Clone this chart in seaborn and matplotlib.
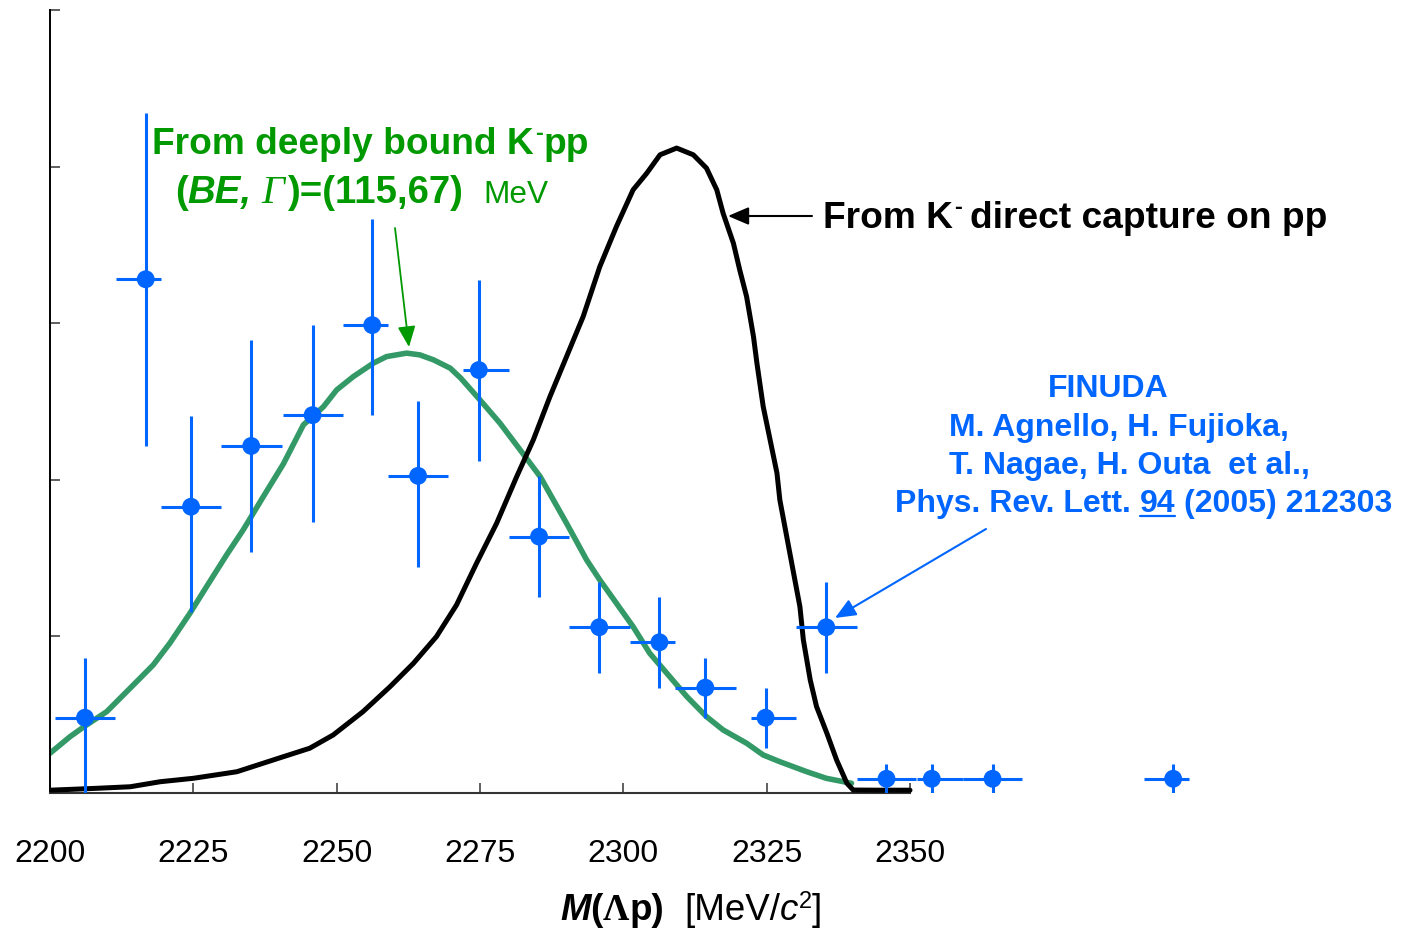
import numpy as np
import matplotlib
matplotlib.use("Agg")
import matplotlib.pyplot as plt
from matplotlib.lines import Line2D
import seaborn as sns

# --- FINUDA Lambda-p invariant-mass spectrum -------------------------------
mass = [2206.1, 2216.7, 2224.6, 2235.1, 2245.8, 2256.2, 2264.2, 2274.8, 2285.3,
        2295.8, 2306.3, 2314.3, 2324.8, 2335.4, 2345.9, 2353.8, 2364.4, 2395.9]
counts = [4.79, 32.8, 18.27, 22.15, 24.12, 29.87, 20.24, 27.0, 16.36,
          10.57, 9.61, 6.71, 4.79, 10.57, 0.89, 0.89, 0.89, 0.89]
err_lo = [4.79, 10.63, 6.75, 6.75, 6.8, 5.73, 5.8, 5.81, 3.83,
          2.9, 2.9, 1.92, 1.96, 2.9, 0.93, 0.93, 0.93, 0.93]
err_hi = [3.81, 10.6, 5.8, 6.77, 5.73, 6.77, 4.81, 5.75, 3.88,
          2.91, 2.88, 1.88, 1.88, 2.88, 0.94, 0.94, 0.94, 0.94]
bin_lo = [5.2, 5.2, 5.3, 5.2, 5.2, 5.1, 5.2, 2.7, 5.2,
          5.2, 5.2, 5.3, 2.6, 5.2, 5.2, 2.6, 5.2, 5.1]
bin_hi = [5.3, 2.7, 5.3, 5.3, 5.3, 2.7, 5.3, 5.2, 5.2,
          5.3, 2.7, 5.3, 5.3, 5.3, 5.2, 5.4, 5.2, 2.8]

# deeply bound K-pp spectrum (BE, Gamma) = (115, 67) MeV
bound_m = [2200.0, 2203.5, 2206.1, 2209.9, 2215.1, 2218.0, 2220.9, 2224.4, 2227.3,
           2230.8, 2233.7, 2237.2, 2240.7, 2244.2, 2247.7, 2250.0, 2252.9, 2256.4,
           2258.7, 2262.2, 2264.5, 2266.9, 2269.8, 2271.6, 2275.0, 2278.5, 2282.0,
           2285.5, 2290.1, 2293.6, 2295.9, 2298.8, 2301.7, 2304.6, 2308.1, 2311.1,
           2314.5, 2317.4, 2321.5, 2324.4, 2327.3, 2332.0, 2335.4, 2339.8]
bound_y = [2.52, 3.58, 4.26, 5.18, 7.09, 8.16, 9.55, 11.46, 13.16,
           15.19, 16.79, 18.91, 21.0, 23.5, 24.66, 25.73, 26.58, 27.44,
           27.86, 28.08, 27.97, 27.65, 27.12, 26.5, 25.09, 23.6, 21.9,
           20.19, 17.21, 14.87, 13.59, 12.1, 10.61, 8.91, 7.41, 6.13,
           4.86, 4.01, 3.16, 2.41, 1.98, 1.34, 0.92, 0.6]

# K- direct capture on pp
direct_m = [2200.0, 2208.1, 2214.0, 2219.2, 2225.0, 2232.6, 2240.7, 2245.3, 2249.4,
            2254.6, 2259.3, 2263.4, 2267.4, 2270.9, 2274.4, 2277.9, 2281.4, 2284.3,
            2287.2, 2290.1, 2293.0, 2295.9, 2298.8, 2301.7, 2304.1, 2306.4, 2309.3,
            2312.2, 2314.5, 2316.3, 2317.4, 2319.2, 2320.3, 2321.5, 2322.7, 2323.3,
            2324.4, 2325.6, 2326.8, 2327.3, 2328.5, 2329.7, 2330.8, 2331.4, 2332.6,
            2333.7, 2335.5, 2337.2, 2339.0, 2340.1, 2344.8, 2350.0]
direct_y = [0.16, 0.28, 0.38, 0.70, 0.92, 1.34, 2.30, 2.84, 3.69,
            5.18, 6.77, 8.27, 9.97, 11.99, 14.66, 17.21, 20.19, 22.54,
            25.3, 27.86, 30.42, 33.61, 36.17, 38.51, 39.58, 40.75, 41.18,
            40.75, 39.9, 38.51, 37.02, 35.1, 33.4, 31.69, 29.14, 27.44,
            24.66, 22.54, 20.41, 18.7, 16.36, 14.02, 11.88, 9.76, 7.2,
            5.5, 3.8, 2.09, 0.6, 0.17, 0.16, 0.16]

x_ticks = [2200, 2225, 2250, 2275, 2300, 2325, 2350]
tick_labels = ["2200", "2225", "2250", "2275", "2300", "2325", "2350"]

BLUE = "#0066FF"
CURVE_GREEN = "#339966"
TEXT_GREEN = "#009900"
SANS = ["Liberation Sans", "DejaVu Sans"]
SERIF = ["Liberation Serif", "DejaVu Serif"]

sns.set_theme(style="ticks")
plt.rcParams["font.family"] = SANS

W, H = 1407, 930
fig = plt.figure(figsize=(W / 100, H / 100), dpi=100)
ax = fig.add_axes([50 / W, (H - 792.7) / H, (W - 50) / W, 782.7 / H])
ax.set_facecolor("white")

sns.lineplot(x=bound_m, y=bound_y, ax=ax, color=CURVE_GREEN, lw=4.0,
             estimator=None, sort=False, zorder=2)
sns.lineplot(x=direct_m, y=direct_y, ax=ax, color="black", lw=3.6,
             estimator=None, sort=False, zorder=3)

ax.errorbar(mass, counts, yerr=[err_lo, err_hi], xerr=[bin_lo, bin_hi],
            fmt="none", ecolor=BLUE, elinewidth=2.2, capsize=0, zorder=4)
sns.scatterplot(x=mass, y=counts, ax=ax, color=BLUE, s=165,
                edgecolor="none", linewidth=0, zorder=5)

ax.set_xlim(2200, 2200 + (W - 50) / 5.7333)
ax.set_ylim(0, 50)
ax.set_xticks(x_ticks)
ax.set_xticklabels(tick_labels)
ax.set_yticks(np.arange(0, 51, 10))
ax.set_yticklabels([])
ax.tick_params(axis="x", direction="in", length=7.2, width=1.2, color="#444444",
               pad=33, labelsize=23, labelcolor="black")
ax.tick_params(axis="y", direction="in", length=7.2, width=1.2, color="#444444")
for side in ("top", "right"):
    ax.spines[side].set_visible(False)
ax.spines["bottom"].set_bounds(2200, 2350)
ax.spines["bottom"].set_color("#333333")
ax.spines["bottom"].set_linewidth(1.5)
ax.spines["left"].set_color("black")
ax.spines["left"].set_linewidth(1.4)
ax.set_xlabel("")
ax.set_ylabel("")

renderer = fig.canvas.get_renderer()


def rich(x, y, pieces, color):
    """Draw a run of differently styled text pieces on one baseline (pixels, top-left origin)."""
    cur = x
    placed = []
    for p in pieces:
        cur += p.get("gap", 0)
        t = fig.text(cur / W, 1 - (y - p.get("rise", 0)) / H, p["s"],
                     va="baseline", ha="left",
                     fontsize=p.get("size", 26.7),
                     fontweight=p.get("weight", "bold"),
                     fontstyle=p.get("style", "normal"),
                     family=p.get("family", SANS),
                     color=p.get("color", color))
        bb = t.get_window_extent(renderer)
        placed.append((t, bb))
        cur = bb.x1
    return placed


# model labels
rich(152, 154, [
    {"s": "From deeply bound K"},
    {"s": "-", "size": 17, "rise": 14, "gap": 1},
    {"s": "pp", "gap": 1},
], TEXT_GREEN)
rich(175, 203, [
    {"s": "(", "size": 27.6},
    {"s": "BE,", "style": "italic", "size": 27.6},
    {"s": "\u0393", "style": "italic", "weight": "normal", "family": SERIF,
     "size": 29, "gap": 10},
    {"s": ")=(115,67)", "size": 27.6, "gap": 2},
    {"s": "MeV", "weight": "normal", "size": 22.8, "gap": 21},
], TEXT_GREEN)
rich(823, 228, [
    {"s": "From K"},
    {"s": "-", "size": 17, "rise": 14, "gap": 1},
    {"s": "direct capture on pp", "gap": 8},
], "black")

# FINUDA reference
rich(1048, 397, [{"s": "FINUDA", "size": 23}], BLUE)
rich(949, 436, [{"s": "M. Agnello, H. Fujioka,", "size": 23}], BLUE)
rich(949, 474, [{"s": "T. Nagae, H. Outa  et al.,", "size": 23}], BLUE)
ref = rich(895, 512, [
    {"s": "Phys. Rev. Lett.", "size": 23},
    {"s": "94", "size": 23, "gap": 9},
    {"s": "(2005) 212303", "size": 23, "gap": 9},
], BLUE)
vol_bb = ref[1][1]
fig.add_artist(Line2D([vol_bb.x0 / W, vol_bb.x1 / W], [1 - 516 / H] * 2,
                      transform=fig.transFigure, color=BLUE, lw=1.6))

# axis title
rich(560, 920, [
    {"s": "M", "style": "italic", "size": 26.5},
    {"s": "(", "size": 26.5},
    {"s": "\u039b", "family": SERIF, "size": 26.5},
    {"s": "p)", "size": 26.5},
    {"s": "[MeV/", "weight": "normal", "size": 26.5, "gap": 20},
    {"s": "c", "weight": "normal", "style": "italic", "size": 26.5},
    {"s": "2", "weight": "normal", "size": 17, "rise": 12},
    {"s": "]", "weight": "normal", "size": 26.5},
], "black")


def arrow(tail, tip, color, lw):
    ax.annotate("", xy=(tip[0], H - tip[1]), xycoords="figure pixels",
                xytext=(tail[0], H - tail[1]), textcoords="figure pixels",
                arrowprops=dict(arrowstyle="-|>,head_length=0.7,head_width=0.3",
                                mutation_scale=18, color=color, lw=lw,
                                shrinkA=0, shrinkB=0))


arrow((395, 228), (409, 347), TEXT_GREEN, 1.3)
arrow((812, 216), (728, 216), "black", 1.5)
arrow((986, 529), (835, 618), BLUE, 1.5)

fig.savefig("out.png", dpi=100, facecolor="white")
